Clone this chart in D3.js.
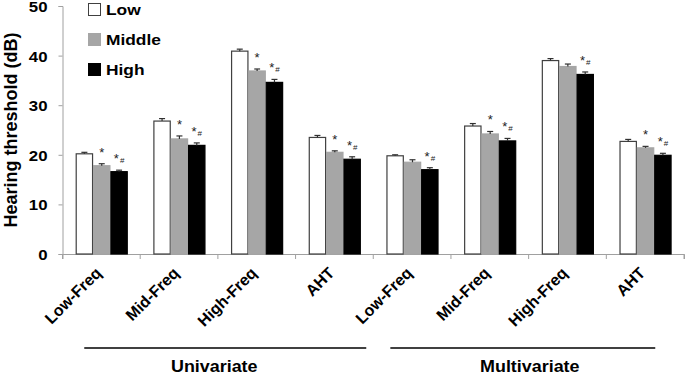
<!DOCTYPE html>
<html>
<head>
<meta charset="utf-8">
<script src="https://cdn.jsdelivr.net/npm/d3@7"></script>
<style>
  body { margin: 0; background: #fff; }
  text { font-family: Arial, "Liberation Sans", sans-serif; font-weight: bold; }
</style>
</head>
<body>
<div id="chart"></div>
<script>
// categories along the x axis (two analysis groups of four)
var categories = ["Low-Freq", "Mid-Freq", "High-Freq", "AHT", "Low-Freq", "Mid-Freq", "High-Freq", "AHT"];
var groups = ["Univariate", "Multivariate"];
var seriesNames = ["Low", "Middle", "High"];

// hearing threshold (dB)
var lowValues    = [20.2, 26.8, 40.9, 23.5, 19.8, 25.8, 39.0, 22.7];
var middleValues = [17.8, 23.2, 36.9, 20.5, 18.5, 24.2, 37.8, 21.4];
var highValues   = [16.6, 21.9, 34.6, 19.1, 17.0, 22.8, 36.2, 19.9];

var lowErr    = [0.3, 0.5, 0.4, 0.4, 0.2, 0.5, 0.4, 0.4];
var middleErr = [0.4, 0.6, 0.4, 0.3, 0.5, 0.5, 0.5, 0.3];
var highErr   = [0.3, 0.5, 0.6, 0.5, 0.4, 0.5, 0.5, 0.4];

// significance marks above the Middle / High bars
var middleMarks = ["*", "*", "*", "*", "", "*", "", "*"];
var highMarks   = ["*#", "*#", "*#", "*#", "*#", "*#", "*#", "*#"];

var yTicks = [0, 10, 20, 30, 40, 50];

var WIDTH = 685, HEIGHT = 375;
var MARGINS = { top: 6, right: 1, bottom: 121, left: 62.5 };
var fills = { "Low": "#ffffff", "Middle": "#a6a6a6", "High": "#000000" };
var strokes = { "Low": "#404040", "Middle": "#a6a6a6", "High": "#000000" };
var SX = 1.12; // horizontal stretch of the original's lettering

var svg = d3.select("#chart").append("svg")
  .attr("width", WIDTH).attr("height", HEIGHT);

var x = d3.scaleBand()
  .domain(d3.range(categories.length))
  .range([MARGINS.left, WIDTH - MARGINS.right])
  .padding(0);
var inner = d3.scaleBand()
  .domain(seriesNames)
  .range([x.bandwidth() * 0.17, x.bandwidth() * 0.84])
  .padding(0);
var y = d3.scaleLinear().domain([0, 50]).range([HEIGHT - MARGINS.bottom, MARGINS.top]);

var rows = categories.map(function(c, i) {
  return {
    idx: i,
    values: [
      { key: "Low", v: lowValues[i], e: lowErr[i], mark: "" },
      { key: "Middle", v: middleValues[i], e: middleErr[i], mark: middleMarks[i] },
      { key: "High", v: highValues[i], e: highErr[i], mark: highMarks[i] }
    ]
  };
});

// y axis
var yAxis = d3.axisLeft(y).tickValues(yTicks).tickSize(4).tickPadding(11).tickFormat(d3.format("d"));
var gY = svg.append("g").attr("transform", "translate(" + MARGINS.left + ",0)").call(yAxis);
gY.select(".domain").attr("stroke", "#a0a0a0");
gY.selectAll(".tick line").attr("stroke", "#a0a0a0");
gY.selectAll(".tick text")
  .attr("fill", "#000").style("font-size", "15px")
  .attr("dy", "0.36em")
  .each(function() {
    var t = d3.select(this);
    var tx = +t.attr("x");
    t.attr("x", 0).attr("transform", "translate(" + tx + ",0) scale(" + SX + ",1)");
  });

// y axis title
svg.append("text")
  .attr("transform", "translate(17," + ((MARGINS.top + HEIGHT - MARGINS.bottom) / 2) + ") rotate(-90)")
  .attr("text-anchor", "middle")
  .style("font-size", "18px")
  .text("Hearing threshold (dB)");

// x axis
var xAxis = d3.axisBottom(x).tickSize(5).tickFormat("");
var gX = svg.append("g").attr("transform", "translate(0," + y(0) + ")").call(xAxis);
gX.select(".domain").attr("stroke", "#a0a0a0");
gX.selectAll(".tick").remove();
var edges = d3.range(categories.length + 1).map(function(i) {
  return i < categories.length ? x(i) : x(categories.length - 1) + x.bandwidth();
});
gX.selectAll("line.edge").data(edges).enter().append("line")
  .attr("class", "edge")
  .attr("x1", function(d) { return d; }).attr("x2", function(d) { return d; })
  .attr("y1", 0).attr("y2", 5)
  .attr("stroke", "#a0a0a0");

// bars
var cat = svg.append("g").selectAll("g.cat").data(rows).enter().append("g")
  .attr("class", "cat")
  .attr("transform", function(d) { return "translate(" + x(d.idx) + ",0)"; });

cat.selectAll("rect").data(function(d) { return d.values; }).enter().append("rect")
  .attr("x", function(d) { return inner(d.key) + 0.5; })
  .attr("y", function(d) { return y(d.v); })
  .attr("width", inner.bandwidth() - 1)
  .attr("height", function(d) { return y(0) - y(d.v); })
  .attr("fill", function(d) { return fills[d.key]; })
  .attr("stroke", function(d) { return strokes[d.key]; })
  .attr("stroke-width", 1.2);

// error bars (upper half only)
var err = cat.selectAll("g.err").data(function(d) { return d.values; }).enter().append("g")
  .attr("class", "err")
  .attr("stroke", "#303030").attr("stroke-width", 1.2);
err.append("line")
  .attr("x1", function(d) { return inner(d.key) + inner.bandwidth() / 2; })
  .attr("x2", function(d) { return inner(d.key) + inner.bandwidth() / 2; })
  .attr("y1", function(d) { return y(d.v); })
  .attr("y2", function(d) { return y(d.v + d.e); });
err.append("line")
  .attr("x1", function(d) { return inner(d.key) + inner.bandwidth() / 2 - 3; })
  .attr("x2", function(d) { return inner(d.key) + inner.bandwidth() / 2 + 3; })
  .attr("y1", function(d) { return y(d.v + d.e); })
  .attr("y2", function(d) { return y(d.v + d.e); });

// significance marks
var marks = cat.selectAll("text.mark").data(function(d) {
    return d.values.filter(function(v) { return v.mark; });
  }).enter().append("text")
  .attr("class", "mark")
  .attr("x", function(d) { return inner(d.key) + inner.bandwidth() / 2; })
  .attr("y", function(d) { return y(d.v + d.e) - 7; })
  .attr("text-anchor", "middle")
  .attr("fill", "#222")
  .style("font-weight", "normal")
  .style("font-size", "13px");
marks.append("tspan").text("*");
marks.append("tspan").style("font-size", "8px").attr("dx", 1)
  .text(function(d) { return d.mark.slice(1); });

// category labels
svg.append("g").selectAll("text.cat").data(categories).enter().append("text")
  .attr("class", "cat")
  .attr("transform", function(d, i) {
    return "translate(" + (x(i) + x.bandwidth() / 2 + 1) + "," + (y(0) + 20) + ") rotate(-45)";
  })
  .attr("text-anchor", "end")
  .style("font-size", "16px")
  .text(function(d) { return d; });

// group underlines and labels
var groupSpans = [
  { name: groups[0], x1: x(0) + x.bandwidth() * 0.28, x2: x(3) + x.bandwidth() * 0.91, tx: -11 },
  { name: groups[1], x1: x(4) + x.bandwidth() * 0.22, x2: x(7) + x.bandwidth() * 0.63, tx: 7 }
];
var gg = svg.append("g").selectAll("g").data(groupSpans).enter().append("g");
gg.append("line")
  .attr("x1", function(d) { return d.x1; }).attr("x2", function(d) { return d.x2; })
  .attr("y1", 348).attr("y2", 348)
  .attr("stroke", "#000").attr("stroke-width", 1.5);
gg.append("text")
  .attr("transform", function(d) {
    return "translate(" + ((d.x1 + d.x2) / 2 + d.tx) + ",372) scale(" + SX + ",1)";
  })
  .attr("text-anchor", "middle")
  .style("font-size", "16px")
  .text(function(d) { return d.name; });

// legend
var legend = svg.append("g").selectAll("g").data(seriesNames).enter().append("g")
  .attr("transform", function(d, i) { return "translate(88," + (3 + i * 30) + ")"; });
legend.append("rect")
  .attr("x", 0.5).attr("y", 0.5).attr("width", 12).attr("height", 12)
  .attr("fill", function(d) { return fills[d]; })
  .attr("stroke", function(d) { return strokes[d]; });
legend.append("text")
  .attr("transform", "translate(18,12) scale(" + SX + ",1)")
  .style("font-size", "15.5px")
  .text(function(d) { return d; });
</script>
</body>
</html>
